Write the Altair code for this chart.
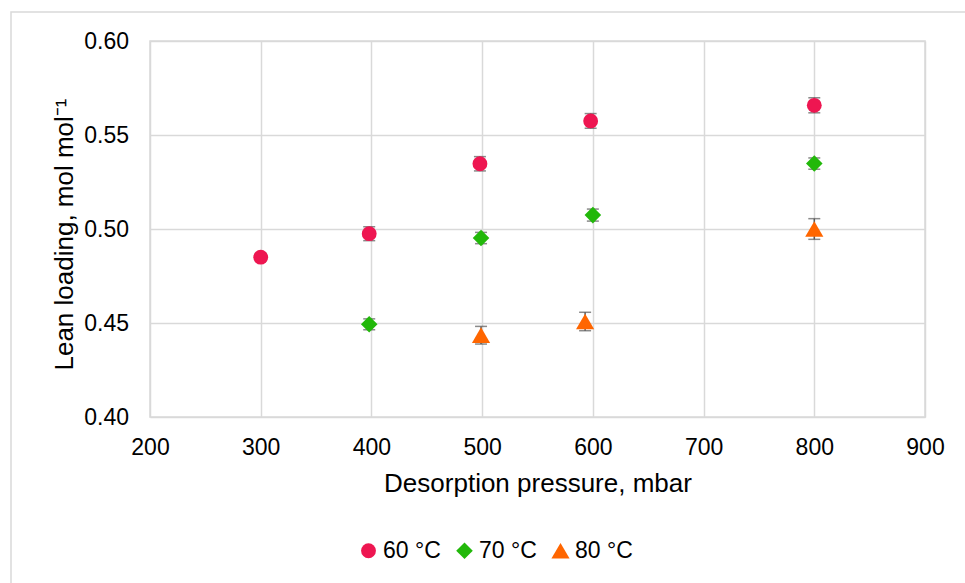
import altair as alt
import pandas as pd

# Lean loading vs. desorption pressure at three temperatures (mean ± error)
series = ["60 °C", "70 °C", "80 °C"]

pressure_60 = [300, 398, 498, 598, 800]
loading_60 = [0.4850, 0.4975, 0.5347, 0.5575, 0.5658]
error_60 = [0.0020, 0.0037, 0.0038, 0.0039, 0.0040]

pressure_70 = [398, 499, 600, 800]
loading_70 = [0.4493, 0.4952, 0.5074, 0.5348]
error_70 = [0.0029, 0.0030, 0.0032, 0.0030]

pressure_80 = [499, 593, 800]
loading_80 = [0.4435, 0.4508, 0.5000]
error_80 = [0.0047, 0.0049, 0.0055]

x_ticks = [200, 300, 400, 500, 600, 700, 800, 900]
y_ticks = [0.40, 0.45, 0.50, 0.55, 0.60]

colors = ["#EE1651", "#22B80A", "#FF6600"]
shapes = ["circle", "diamond", "triangle-up"]
marker_sizes = [220, 330, 320]

rows = []
for name, ps, ls, es in zip(
    series,
    [pressure_60, pressure_70, pressure_80],
    [loading_60, loading_70, loading_80],
    [error_60, error_70, error_80],
):
    for p, l, e in zip(ps, ls, es):
        rows.append({"series": name, "pressure": p, "loading": l,
                     "lo": l - e, "hi": l + e})
df = pd.DataFrame(rows)

W, H = 775, 376
FONT = "Liberation Sans"
GRID = "#D9D9D9"

x_scale = alt.Scale(domain=[200, 900], nice=False, zero=False)
y_scale = alt.Scale(domain=[0.40, 0.60], nice=False, zero=False)

x_axis = alt.Axis(
    values=x_ticks, title="Desorption pressure, mbar", format="d",
    grid=True, ticks=False, tickSize=0, domain=False, labelFlush=False,
    labelPadding=19, labelFontSize=23, labelColor="#000000",
    titleFontSize=26, titleFontWeight="normal", titleColor="#000000",
    titleX=W / 2, titleY=74.5, titleBaseline="alphabetic", titleAlign="center",
)
y_axis = alt.Axis(
    values=y_ticks, title="Lean loading, mol mol\u207b\u00b9", format=".2f",
    grid=True, ticks=False, tickSize=0, domain=False, labelFlush=False,
    labelPadding=21.5, labelFontSize=23, labelColor="#000000",
    titleFontSize=26, titleFontWeight="normal", titleColor="#000000",
    titleAngle=270, titleX=-78, titleY=193, titleBaseline="alphabetic",
    titleAlign="center",
)

base = alt.Chart(df)

# Outer frame around the whole figure
frame = alt.Chart(pd.DataFrame({"k": [0]})).mark_rect(
    fillOpacity=0, stroke=GRID, strokeWidth=1.5, clip=False
).encode(
    x=alt.value(-139), x2=alt.value(840),
    y=alt.value(-29), y2=alt.value(560),
)

bars = base.mark_rule(color="#595959", strokeWidth=1.5).encode(
    x=alt.X("pressure:Q", scale=x_scale, axis=x_axis),
    y=alt.Y("lo:Q", scale=y_scale, axis=y_axis),
    y2="hi:Q",
)
cap_lo = base.mark_tick(color="#595959", orient="horizontal", size=12,
                        thickness=1.5).encode(
    x=alt.X("pressure:Q", scale=x_scale, axis=x_axis),
    y=alt.Y("lo:Q", scale=y_scale, axis=y_axis),
)
cap_hi = base.mark_tick(color="#595959", orient="horizontal", size=12,
                        thickness=1.5).encode(
    x=alt.X("pressure:Q", scale=x_scale, axis=x_axis),
    y=alt.Y("hi:Q", scale=y_scale, axis=y_axis),
)

legend = alt.Legend(
    orient="none", legendX=207, legendY=498, direction="horizontal",
    title=None, labelFontSize=23, labelColor="#000000", labelFont=FONT,
    symbolStrokeWidth=0, columnPadding=12, labelOffset=3,
    padding=0,
)

points = base.mark_point(filled=True, opacity=1).encode(
    x=alt.X("pressure:Q", scale=x_scale, axis=x_axis),
    y=alt.Y("loading:Q", scale=y_scale, axis=y_axis),
    color=alt.Color("series:N", scale=alt.Scale(domain=series, range=colors),
                    legend=legend),
    shape=alt.Shape("series:N", scale=alt.Scale(domain=series, range=shapes),
                    legend=legend),
    size=alt.Size("series:N", scale=alt.Scale(domain=series, range=marker_sizes),
                  legend=legend),
)

chart = alt.layer(frame, bars, cap_lo, cap_hi, points).properties(
    width=W, height=H,
    autosize=alt.AutoSizeParams(type="none"),
    padding={"left": 150, "top": 41, "right": 40, "bottom": 166},
    background="white",
).configure_view(
    stroke=GRID, strokeWidth=1.5
).configure_axis(
    gridColor=GRID, gridWidth=1.5, labelFont=FONT, titleFont=FONT
).configure_legend(
    labelFont=FONT
)

chart.save("out.html", embed_options={"renderer": "svg", "actions": False})
